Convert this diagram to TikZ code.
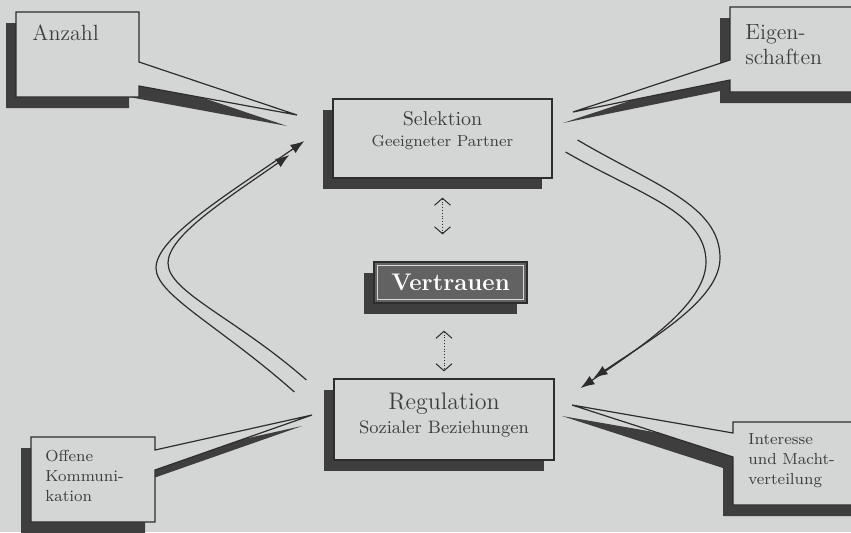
\documentclass[tikz,border=0pt]{standalone}
\usepackage{fontspec}
\usepackage{tikz}
\usetikzlibrary{positioning,arrows.meta,calc,shadows}
\definecolor{bg}{RGB}{212,214,213}
\definecolor{ink}{RGB}{45,45,45}
\definecolor{shadowc}{RGB}{62,62,62}
\definecolor{tx}{RGB}{62,62,62}
\definecolor{vfill}{RGB}{98,98,98}

\begin{document}
\begin{tikzpicture}[x=0.5pt,y=-0.5pt,
        shadowed/.style={drop shadow={shadow xshift=-5pt,shadow yshift=-5.5pt,fill=shadowc,opacity=1}},
        box/.style={draw=ink,line width=0.6pt,fill=bg,text=tx,align=center,inner sep=0pt,shadowed},
        speech/.style={draw=ink,line width=0.6pt,fill=bg,shadowed},
        note/.style={text=tx,align=left,inner sep=0pt,font=\fontsize{8}{10}\selectfont},
        cycarrow/.style={draw=ink,line width=0.6pt,-{Latex[length=7pt,width=5pt]}},
        twoway/.style={draw=ink,line width=0.4pt,densely dotted,{Straight Barb[length=3.5pt,width=8pt,line width=0.5pt]}-{Straight Barb[length=3.5pt,width=8pt,line width=0.5pt]}}]
        \fill[bg] (0,0) rectangle (851,532);
        \clip (0,0) rectangle (851,532);
        \draw[speech] (16,12) -- (139,12) -- (139,62) -- (297,115) -- (139,86) -- (139,97) -- (16,97) -- cycle;
        \draw[speech] (730,7) -- (870,7) -- (870,92) -- (730,92) -- (730,80) -- (573,112) -- (730,60) -- cycle;
        \draw[speech] (31,437) -- (155,437) -- (155,450) -- (312,415) -- (155,470) -- (155,522) -- (31,522) -- cycle;
        \draw[speech] (733,422) -- (870,422) -- (870,505) -- (733,505) -- (733,457) -- (572,405) -- (733,433) -- cycle;
        \node[anchor=base west,text=tx,inner sep=0pt,font=\fontsize{11}{13}\selectfont] (anz) at (32,40) {Anzahl};
        \node[note,anchor=north west,font=\fontsize{11}{12.5}\selectfont] (eig) at (745,24) {Eigen-\\schaften};
        \node[note,anchor=north west] (off) at (45,450) {Offene\\Kommuni-\\kation};
        \node[note,anchor=north west] (int) at (748,433) {Interesse\\und Macht-\\verteilung};
        \node[box,minimum width=109.5pt,minimum height=39.5pt,text depth=10pt,font=\fontsize{10}{10.5}\selectfont] (sel) at (442.5,138.5) {Selektion\\{\fontsize{8}{10}\selectfont Geeigneter Partner}};
        \node[box,minimum width=76.5pt,minimum height=20.5pt,fill=vfill,text=white,font=\bfseries\fontsize{12}{14}\selectfont] (vert) at (450.5,282.5) {Vertrauen};
        \draw[white!85!black,line width=0.6pt] ([shift={(2pt,-2pt)}]vert.north west) rectangle ([shift={(-2pt,2pt)}]vert.south east);
        \node[box,minimum width=110pt,minimum height=40.5pt,text depth=6pt,font=\fontsize{12}{12}\selectfont] (reg) at (444,419.5) {Regulation\\{\fontsize{9}{12}\selectfont Sozialer Beziehungen}};
        \draw[twoway,shorten <=9.5pt,shorten >=13.5pt] (sel.south) -- (sel.south |- vert.north);
        \draw[twoway,shorten <=13.5pt,shorten >=3.5pt] (reg.north |- vert.south) -- (reg.north);
        \draw[cycarrow] ([shift={(-39,-27.5)}]reg.west) .. controls (220,326) and (156,295) .. (156,268) .. controls (156,238) and (225,196) .. ([shift={(-28,2.5)}]sel.west);
        \draw[cycarrow] ([shift={(-27,-39.5)}]reg.west) .. controls (236,318) and (168,292) .. (168,263) .. controls (168,236) and (225,200) .. ([shift={(-43,16.5)}]sel.west);
        \draw[cycarrow] ([shift={(25,1.5)}]sel.east) .. controls (654,185) and (720,205) .. (720,258) .. controls (720,300) and (651,339) .. ([shift={(39,-41.5)}]reg.east);
        \draw[cycarrow] ([shift={(13,13.5)}]sel.east) .. controls (638,194) and (706,212) .. (706,262) .. controls (706,305) and (638,349) .. ([shift={(26,-31.5)}]reg.east);
\end{tikzpicture}
\end{document}
